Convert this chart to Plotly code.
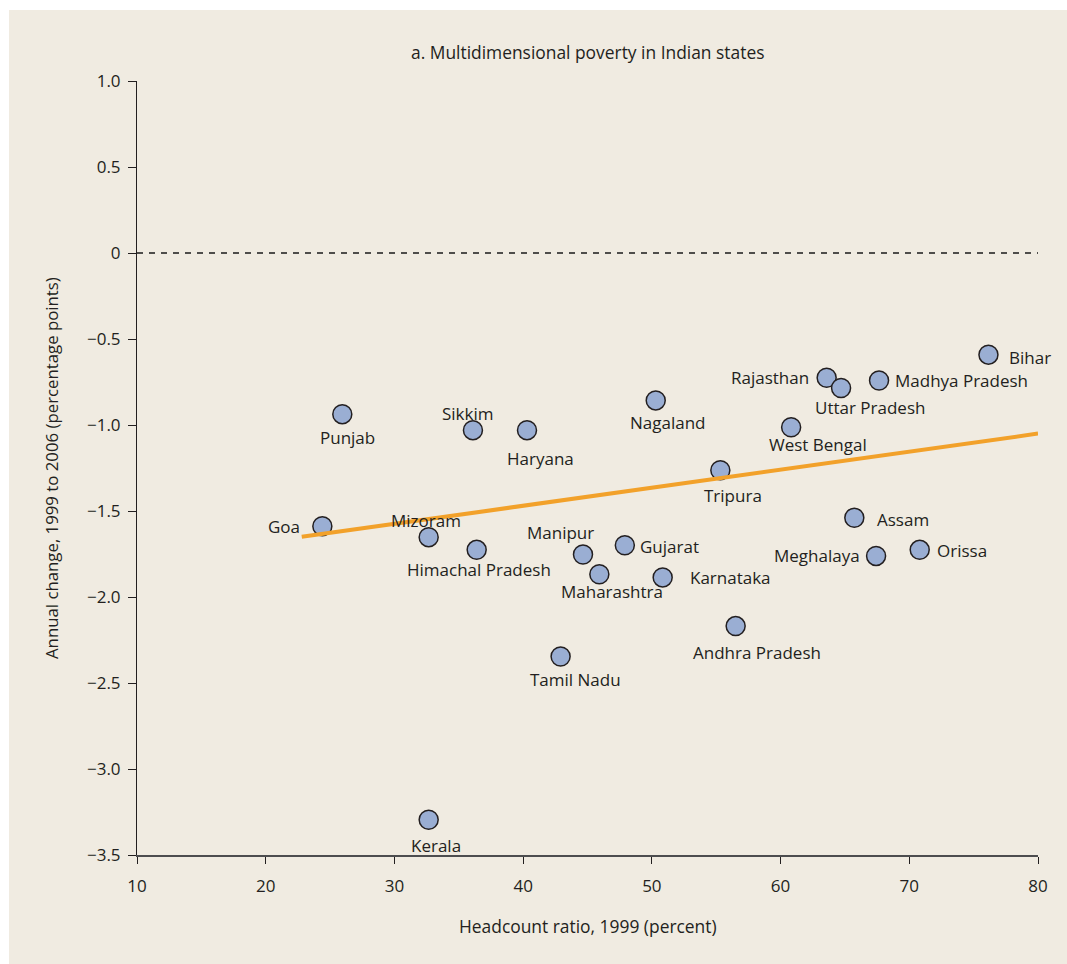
import plotly.graph_objects as go

# State-level multidimensional poverty: 1999 headcount vs annual change to 2006
states = [
    "Punjab", "Sikkim", "Haryana", "Goa", "Mizoram", "Himachal Pradesh",
    "Manipur", "Gujarat", "Maharashtra", "Karnataka", "Andhra Pradesh",
    "Tamil Nadu", "Kerala", "Nagaland", "Tripura", "Rajasthan",
    "Uttar Pradesh", "Madhya Pradesh", "Bihar", "West Bengal", "Assam",
    "Meghalaya", "Orissa",
]
headcount_1999 = [
    25.95, 36.1, 40.3, 24.4, 32.66, 36.39,
    44.65, 47.9, 45.92, 50.84, 56.51,
    42.91, 32.66, 50.3, 55.32, 63.58,
    64.7, 67.65, 76.15, 60.82, 65.73,
    67.42, 70.81,
]
annual_change = [
    -0.937, -1.03, -1.03, -1.588, -1.652, -1.726,
    -1.753, -1.699, -1.868, -1.886, -2.169,
    -2.346, -3.295, -0.857, -1.263, -0.725,
    -0.785, -0.741, -0.591, -1.013, -1.539,
    -1.761, -1.726,
]

# Fitted trend line endpoints
trend_x = [22.8, 80.0]
trend_y = [-1.65, -1.05]

x_ticks = [10, 20, 30, 40, 50, 60, 70, 80]
y_ticks = [1.0, 0.5, 0.0, -0.5, -1.0, -1.5, -2.0, -2.5, -3.0, -3.5]
y_tick_text = ["1.0", "0.5", "0", "\u22120.5", "\u22121.0", "\u22121.5",
               "\u22122.0", "\u22122.5", "\u22123.0", "\u22123.5"]

# Label placement around each marker: (anchor, x offset px, y offset px down)
label_place = {
    "Punjab": ("center", 5, 23),
    "Sikkim": ("center", -5, -17),
    "Haryana": ("center", 13, 28),
    "Goa": ("right", -20, 0),
    "Mizoram": ("center", -3, -17),
    "Himachal Pradesh": ("center", 2, 20),
    "Manipur": ("center", -22, -22),
    "Gujarat": ("left", 13, 1),
    "Maharashtra": ("center", 13, 17),
    "Karnataka": ("left", 25, 0),
    "Andhra Pradesh": ("center", 21, 26),
    "Tamil Nadu": ("center", 15, 23),
    "Kerala": ("center", 7, 26),
    "Nagaland": ("center", 12, 22),
    "Tripura": ("center", 13, 25),
    "Rajasthan": ("right", -16, 0),
    "Uttar Pradesh": ("center", 29, 19),
    "Madhya Pradesh": ("left", 14, 0),
    "Bihar": ("left", 19, 3),
    "West Bengal": ("center", 27, 17),
    "Assam": ("left", 21, 2),
    "Meghalaya": ("right", -14, 0),
    "Orissa": ("left", 15, 1),
}

FONT = "Open Sans, Noto Sans, sans-serif"
TEXT = "#231f20"
PANEL = "#f0ebe1"

W, H = 1067, 964
ML, MR, MT, MB = 137, 29, 81, 109
PW, PH = W - ML - MR, H - MT - MB


def px_to_paper_x(px):
    return (px - ML) / PW


def px_to_paper_y(py):
    return (H - MB - py) / PH


fig = go.Figure()

# zero reference line
fig.add_trace(go.Scatter(
    x=[x_ticks[0], x_ticks[-1]], y=[0, 0], mode="lines",
    line=dict(color="#1a1a1a", width=1.3, dash="6px,6px"),
    hoverinfo="skip", showlegend=False,
))

fig.add_trace(go.Scatter(
    x=headcount_1999, y=annual_change, mode="markers",
    marker=dict(size=19, color="#9aaed3",
                line=dict(color="#231f20", width=1.5)),
    text=states, hoverinfo="text", showlegend=False,
))

fig.add_trace(go.Scatter(
    x=trend_x, y=trend_y, mode="lines",
    line=dict(color="#f2a12a", width=4),
    hoverinfo="skip", showlegend=False,
))

for name, hx, ch in zip(states, headcount_1999, annual_change):
    anchor, dx, dy = label_place[name]
    fig.add_annotation(
        x=hx, y=ch, text=name, showarrow=False,
        xanchor=anchor, yanchor="middle",
        xshift=dx, yshift=-dy,
        font=dict(family=FONT, size=17, color=TEXT),
    )

# titles
fig.add_annotation(
    xref="paper", yref="paper", x=0.5, y=px_to_paper_y(52),
    text="a. Multidimensional poverty in Indian states", showarrow=False,
    xanchor="center", yanchor="middle",
    font=dict(family=FONT, size=17.4, color=TEXT),
)
fig.add_annotation(
    xref="paper", yref="paper", x=0.5, y=px_to_paper_y(926),
    text="Headcount ratio, 1999 (percent)", showarrow=False,
    xanchor="center", yanchor="middle",
    font=dict(family=FONT, size=17.4, color=TEXT),
)
fig.add_annotation(
    xref="paper", yref="paper", x=px_to_paper_x(51), y=0.5,
    text="Annual change, 1999 to 2006 (percentage points)", showarrow=False,
    textangle=-90, xanchor="center", yanchor="middle",
    font=dict(family=FONT, size=16.8, color=TEXT),
)

# thin white border along the top and left of the beige panel
fig.add_shape(
    type="rect", xref="paper", yref="paper", layer="below",
    x0=px_to_paper_x(-20), x1=px_to_paper_x(9),
    y0=px_to_paper_y(H + 20), y1=px_to_paper_y(-20),
    fillcolor="white", line=dict(width=0),
)
fig.add_shape(
    type="rect", xref="paper", yref="paper", layer="below",
    x0=px_to_paper_x(-20), x1=px_to_paper_x(W + 20),
    y0=px_to_paper_y(10), y1=px_to_paper_y(-20),
    fillcolor="white", line=dict(width=0),
)

fig.update_xaxes(
    range=[10, 80], tickvals=x_ticks, ticks="outside", ticklen=7,
    tickwidth=1, tickcolor="#231f20", showline=True, linecolor="#4d4d4f",
    linewidth=1.5, showgrid=False, zeroline=False,
    tickfont=dict(family=FONT, size=17, color=TEXT),
    ticklabelstandoff=8,
)
fig.update_yaxes(
    range=[-3.5, 1.0], tickvals=y_ticks, ticktext=y_tick_text,
    ticks="outside", ticklen=8, tickwidth=1, tickcolor="#231f20",
    showline=True, linecolor="#231f20", linewidth=1,
    showgrid=False, zeroline=False,
    tickfont=dict(family=FONT, size=17, color=TEXT),
    ticklabelstandoff=4,
)

fig.update_layout(
    width=W, height=H, autosize=False,
    margin=dict(l=ML, r=MR, t=MT, b=MB, pad=0),
    paper_bgcolor=PANEL, plot_bgcolor="rgba(0,0,0,0)",
    showlegend=False,
)

# page background matches the panel so no white shows past the figure edge
page_style = (
    "document.documentElement.style.background='" + PANEL + "';"
    "document.body.style.background='" + PANEL + "';"
    "document.body.style.margin='0';"
)
fig.write_html("out.html", post_script=page_style)
